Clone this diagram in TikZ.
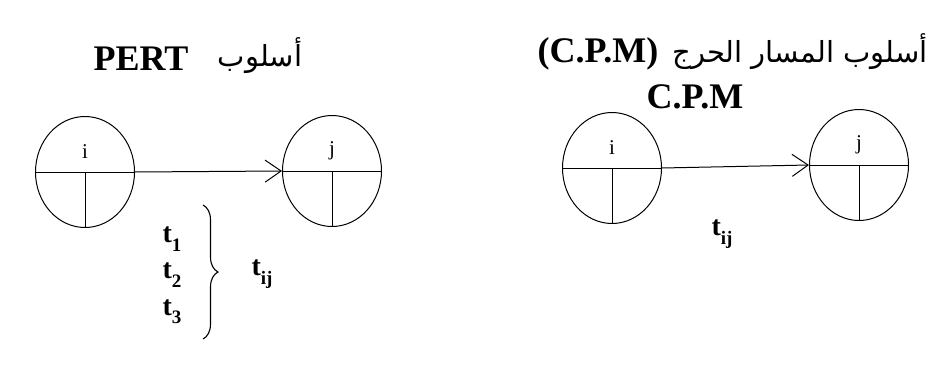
\documentclass[tikz,border=0pt]{standalone}
\usepackage{fontspec}
\setmainfont{Liberation Serif}
\newfontfamily\arabicfont[Script=Arabic]{DejaVu Sans}
\TeXXeTstate=1
\usetikzlibrary{shapes.geometric,arrows.meta,decorations.pathreplacing}
\newcommand\tlab[1]{{\bfseries t\raisebox{-0.3em}{\fontsize{19}{22}\selectfont #1}}}
\begin{document}
\begin{tikzpicture}[x=1pt,y=-1pt,
  event/.style={draw,ellipse,line width=1pt,minimum width=99pt,minimum height=111pt,inner sep=0pt},
  divline/.style={line width=0.9pt},
  actarrow/.style={line width=1pt,-{Straight Barb[length=16pt,width=22pt,line width=1pt]}},
  title/.style={font=\fontsize{36}{40}\selectfont\bfseries,inner sep=0pt},
  artitle/.style={font=\fontsize{29}{34}\selectfont\arabicfont,inner sep=0pt},
  evlabel/.style={font=\fontsize{21}{24}\selectfont,inner sep=0pt},
  tnode/.style={font=\fontsize{28}{32}\selectfont,inner sep=0pt}]
\useasboundingbox (0,0) rectangle (942,367);
% titles
\node[title] (pert) at (141,59) {PERT};
\node[artitle] (ar1) at (260,56) {\beginR أسلوب\endR};
\node[title] (cpmp) at (598,54) {(C.P.M)};
\node[artitle] (ar2) at (800,52) {\beginR أسلوب المسار الحرج\endR};
\node[title] (cpm) at (695,97) {C.P.M};
% PERT events
\node[event] (pi) at (85,172) {};
\node[event] (pj) at (332,171) {};
% CPM events
\node[event] (ci) at (612,168) {};
\node[event] (cj) at (859,165) {};
\foreach \n/\l in {pi/i,pj/j,ci/i,cj/j}{
  \draw[divline] (\n.west) -- (\n.east);
  \draw[divline] (\n.center) -- (\n.south);
  \node[evlabel] (\n lab) at ([yshift=20pt]\n.center) {\l};
}
% arrows
\draw[actarrow] (pi.east) -- (pj.west);
\draw[actarrow] (ci.east) -- (cj.west);
% PERT times
\node[tnode] (t1) at (172,239) {\tlab{1}};
\node[tnode] (t2) at (172,275) {\tlab{2}};
\node[tnode] (t3) at (172,312) {\tlab{3}};
\coordinate (bt) at (203,205);
\coordinate (bb) at (203,339);
\draw[line width=1.1pt,decorate,decoration={brace,amplitude=15pt}] (bt) -- (bb);
\node[tnode] (tij1) at (262,274) {\tlab{ij}};
% CPM time
\node[tnode] (tij2) at (722,234) {\tlab{ij}};
\end{tikzpicture}
\end{document}
